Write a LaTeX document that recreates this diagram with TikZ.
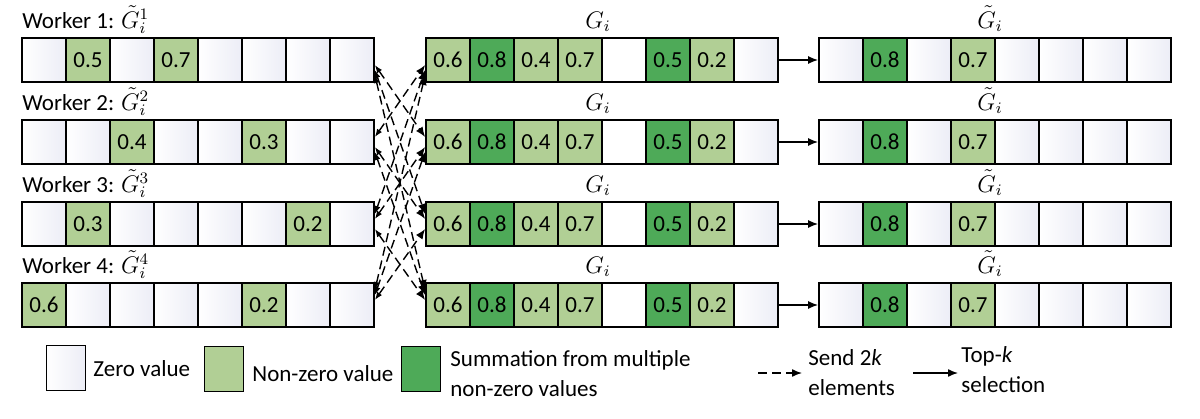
\documentclass[tikz,border=0pt]{standalone}
\usepackage{fontspec}
\setmainfont{Carlito}
\usetikzlibrary{arrows.meta,positioning}
\definecolor{zerocol}{RGB}{236,237,246}
\definecolor{nzcol}{RGB}{177,207,149}
\definecolor{sumcol}{RGB}{78,170,88}
\tikzset{
  cell/.style={draw, line width=0.9pt, minimum width=22pt, minimum height=22pt, inner sep=0pt},
  zero/.style={cell, left color=white, right color=zerocol},
  nz/.style={cell, fill=nzcol},
  sum/.style={cell, fill=sumcol},
  blank/.style={cell, fill=white},
  send/.style={dash pattern=on 4.5pt off 2.5pt, line width=0.7pt, {Latex[length=4pt,width=3pt]}-{Latex[length=5pt,width=4pt]}},
  topk/.style={line width=0.7pt, -{Latex[length=5pt,width=4pt]}},
  lbl/.style={anchor=base west, inner sep=0pt}
}
% one row of 8 cells: name, x of left edge, y of centre, cells
\def\cellrow#1#2#3#4{%
  \foreach \s/\v [count=\n] in {#4}
    \node[\s] (#1\n) at ({#2+22+(\n-1)*44},#3) {\v};}
\begin{document}
\begin{tikzpicture}[x=0.5pt,y=-0.5pt,font=\fontsize{11.5}{15}\selectfont]
\useasboundingbox (0,0) rectangle (1200,418);
%%%%% workers %%%%%
\cellrow{wa}{22}{60}{zero/{},nz/0.5,zero/{},nz/0.7,zero/{},zero/{},zero/{},zero/{}}
\cellrow{wb}{22}{142}{zero/{},zero/{},nz/0.4,zero/{},zero/{},nz/0.3,zero/{},zero/{}}
\cellrow{wc}{22}{224}{zero/{},nz/0.3,zero/{},zero/{},zero/{},zero/{},nz/0.2,zero/{}}
\cellrow{wd}{22}{305}{nz/0.6,zero/{},zero/{},zero/{},zero/{},nz/0.2,zero/{},zero/{}}
\foreach \r/\y in {1/28,2/110,3/192,4/273}{
  \node[lbl] (wlab\r) at (22,\y) {Worker \r: $\tilde{G}_i^{\r}$};
  \node[anchor=base, inner sep=0pt] (glab\r) at (598,\y) {$G_i$};
  \node[anchor=base, inner sep=0pt] (tlab\r) at (990,\y) {$\tilde{G}_i$};
}
%%%%% sums and top-k %%%%%
\foreach \m/\y in {a/60,b/142,c/224,d/305}{
  \cellrow{m\m}{426}{\y}{nz/0.6,sum/0.8,nz/0.4,nz/0.7,blank/{},sum/0.5,nz/0.2,zero/{}}
  \cellrow{t\m}{819}{\y}{zero/{},sum/0.8,zero/{},nz/0.7,zero/{},zero/{},zero/{},zero/{}}
  \draw[topk] (m\m8.east) -- (t\m1.west);
}
%%%%% send 2k %%%%%
\foreach \i/\a in {1/a,2/b,3/c,4/d}
  \foreach \j/\b in {1/a,2/b,3/c,4/d}{
    \ifnum\i=\j\else
      \draw[send] ([yshift={-(\j-\i)*2.5pt}]w\a8.east) -- ([yshift={-(\i-\j)*2.5pt}]m\b1.west);
    \fi
  }
%%%%% legend %%%%%
\node[zero, minimum width=19.5pt, minimum height=22.5pt] (keyzero) at (66,368) {};
\node[lbl, anchor=west] (txtzero) at (93,369) {Zero value};
\node[nz, minimum width=19.5pt, minimum height=22.5pt] (keynz) at (224,369) {};
\node[lbl, anchor=west] (txtnz) at (252,374) {Non-zero value};
\node[sum, minimum width=19.5pt, minimum height=22.5pt] (keysum) at (421,369) {};
\node[lbl, anchor=west, align=left] (txtsum) at (450,374) {Summation from multiple\\non-zero values};
\coordinate (senda) at (758,373);
\coordinate (sendb) at (802,373);
\draw[dash pattern=on 4.5pt off 2.5pt, line width=0.7pt, -{Latex[length=5pt,width=4pt]}] (senda) -- (sendb);
\node[lbl, anchor=west, align=left] (txtsend) at (808,373) {Send 2\textit{k}\\elements};
\coordinate (topa) at (913,373);
\coordinate (topb) at (958,373);
\draw[topk] (topa) -- (topb);
\node[lbl, anchor=west, align=left] (txttop) at (961,370) {Top-\textit{k}\\selection};
\end{tikzpicture}
\end{document}
